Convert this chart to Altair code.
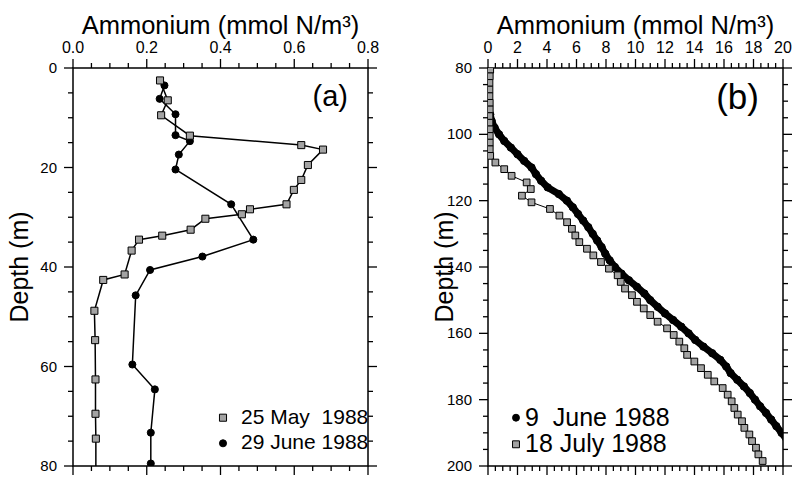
import altair as alt
import pandas as pd

# ---------------- data ----------------
panel_labels = ["(a)", "(b)"]
x_title = "Ammonium (mmol N/m³)"
y_title = "Depth (m)"

a_series = ["25 May\u00a0 1988", "29 June 1988"]
a_may_depth = [2.5, 6.5, 9.5, 13.6, 15.5, 16.4, 19.5, 22.5, 24.5, 27.4, 28.4, 29.4,
               30.3, 32.5, 33.7, 34.5, 36.7, 41.5, 42.6, 48.8, 54.7, 62.6, 69.5, 74.5]
a_may_nh4 = [0.236, 0.257, 0.239, 0.317, 0.619, 0.678, 0.637, 0.619, 0.599, 0.579, 0.480, 0.458,
             0.359, 0.319, 0.242, 0.179, 0.159, 0.140, 0.082, 0.058, 0.060, 0.061, 0.061, 0.062]
a_may_tail_depth = [86.0]
a_may_tail_nh4 = [0.062]
a_jun_depth = [3.5, 6.2, 9.3, 13.5, 14.7, 17.4, 20.4, 27.4, 34.5, 37.9, 40.6, 45.7,
               59.6, 64.6, 73.3, 79.5]
a_jun_nh4 = [0.248, 0.235, 0.278, 0.278, 0.317, 0.287, 0.278, 0.429, 0.489, 0.351, 0.209, 0.170,
             0.161, 0.222, 0.211, 0.211]

b_series = ["9\u00a0 June 1988", "18 July 1988"]
b_jun_depth = [94, 96, 98, 100, 102, 104, 106, 108, 110, 112, 114, 116, 118, 120, 122, 124,
               126, 128, 130, 132, 134, 136, 138, 140, 142, 144, 146, 148, 150, 152, 154, 156,
               158, 160, 162, 164, 166, 168, 170, 172, 174, 176, 178, 180, 182, 184, 186, 188,
               190, 192]
b_jun_nh4 = [0.15, 0.25, 0.45, 0.75, 1.1, 1.55, 2.0, 2.45, 2.95, 3.25, 3.6, 4.05, 4.8, 5.35,
             5.75, 6.1, 6.45, 6.8, 7.1, 7.4, 7.7, 7.95, 8.25, 8.6, 9.05, 9.55, 10.1, 10.6, 11.0,
             11.5, 12.0, 12.55, 13.1, 13.6, 14.05, 14.6, 15.2, 15.75, 16.15, 16.45, 16.9, 17.35,
             17.75, 18.1, 18.45, 18.85, 19.2, 19.55, 19.9, 20.25]
b_jul_depth = [80.5, 82.5, 84.5, 86.5, 88.5, 90.5, 92.5, 94.5, 96.5, 98.5, 100.5, 102.5,
               104.5, 106.5, 108.5, 110.5, 112.5, 114.5, 116.5, 118.5, 120.5, 122.5, 124.5,
               126.5, 128.5, 130.5, 132.5, 134.5, 136.5, 138.5, 140.5, 142.5, 144.5, 146.5,
               148.5, 150.5, 152.5, 154.5, 156.5, 158.5, 160.5, 162.5, 164.5, 166.5, 168.5,
               170.5, 172.5, 174.5, 176.5, 178.5, 180.5, 182.5, 184.5, 186.5, 188.5, 190.5,
               192.5, 194.5, 196.5, 198.5]
b_jul_nh4 = [0.15, 0.12, 0.1, 0.1, 0.1, 0.12, 0.12, 0.1, 0.1, 0.12, 0.12, 0.12,
             0.12, 0.15, 0.5, 1.1, 1.6, 2.62, 2.9, 2.3, 2.95, 4.2, 4.84,
             5.36, 5.69, 5.92, 6.19, 6.71, 7.14, 7.66, 8.2, 8.79, 9.0, 9.29,
             9.76, 10.1, 10.56, 11.0, 11.5, 12.14, 12.59, 12.97, 13.31, 13.5, 13.99,
             14.44, 14.9, 15.34, 15.91, 16.25, 16.52, 16.7, 16.93, 17.22, 17.38, 17.72,
             17.9, 18.17, 18.33, 18.62]

a_xmajor = [0.0, 0.2, 0.4, 0.6, 0.8]
a_xlabels = ["0.0", "0.2", "0.4", "0.6", "0.8"]
a_xminor = [0.05, 0.1, 0.15, 0.25, 0.3, 0.35, 0.45, 0.5, 0.55, 0.65, 0.7, 0.75]
a_ymajor = [0, 20, 40, 60, 80]
a_ylabels = ["0", "20", "40", "60", "80"]
a_yminor = [5, 10, 15, 25, 30, 35, 45, 50, 55, 65, 70, 75]
b_xmajor = [0, 2, 4, 6, 8, 10, 12, 14, 16, 18, 20]
b_xlabels = ["0", "2", "4", "6", "8", "10", "12", "14", "16", "18", "20"]
b_xminor = [i * 0.5 for i in range(41) if i % 4 != 0]
b_ymajor = [80, 100, 120, 140, 160, 180, 200]
b_ylabels = ["80", "100", "120", "140", "160", "180", "200"]
b_yminor = [v for v in range(80, 201, 5) if v % 20 != 0]

FONT = "Liberation Sans"
GRAY = "#a3a3a3"
W, H = 295, 398
MAJ, MIN = 9, 5


def tick_layers(xs, ys, xmajor, xminor, ymajor, yminor, xlabels, ylabels, ytitle_x):
    out = []
    for vals, ln in ((xmajor, MAJ), (xminor, MIN)):
        df = pd.DataFrame({"v": vals})
        for y0, y1 in ((0, -ln), (H, H + ln)):
            out.append(alt.Chart(df).mark_rule(color="black", strokeWidth=1.3).encode(
                x=alt.X("v:Q", scale=xs, axis=None), y=alt.value(y0), y2=alt.value(y1)))
    for vals, ln in ((ymajor, MAJ), (yminor, MIN)):
        df = pd.DataFrame({"v": vals})
        for x0, x1 in ((0, -ln), (W, W + ln)):
            out.append(alt.Chart(df).mark_rule(color="black", strokeWidth=1.3).encode(
                y=alt.Y("v:Q", scale=ys, axis=None), x=alt.value(x0), x2=alt.value(x1)))
    # tick labels
    out.append(alt.Chart(pd.DataFrame({"v": xmajor, "t": xlabels})).mark_text(
        font=FONT, fontSize=16, align="center", baseline="alphabetic", color="black").encode(
        x=alt.X("v:Q", scale=xs, axis=None), y=alt.value(-15), text="t:N"))
    out.append(alt.Chart(pd.DataFrame({"v": ymajor, "t": ylabels})).mark_text(
        font=FONT, fontSize=15, align="right", baseline="middle", color="black").encode(
        y=alt.Y("v:Q", scale=ys, axis=None), x=alt.value(-16), text="t:N"))
    # axis titles
    out.append(alt.Chart(pd.DataFrame({"t": [x_title]})).mark_text(
        font=FONT, fontSize=25.5, align="center", baseline="alphabetic", color="black").encode(
        x=alt.value(W / 2), y=alt.value(-34), text="t:N"))
    out.append(alt.Chart(pd.DataFrame({"t": [y_title]})).mark_text(
        font=FONT, fontSize=25, align="center", baseline="middle", angle=270, color="black").encode(
        x=alt.value(ytitle_x), y=alt.value(H / 2), text="t:N"))
    return out


def legend_layers(names, shapes, fills, sym_x, text_x, rows_y, fsize, pt_size):
    out = []
    for name, shp, fill, yy in zip(names, shapes, fills, rows_y):
        df = pd.DataFrame({"t": [name]})
        out.append(alt.Chart(df).mark_point(shape=shp, filled=True, fill=fill, stroke="black",
                                            strokeWidth=1, opacity=1, size=pt_size).encode(
            x=alt.value(sym_x), y=alt.value(yy)))
        out.append(alt.Chart(df).mark_text(font=FONT, fontSize=fsize, align="left",
                                           baseline="middle", color="black").encode(
            x=alt.value(text_x), y=alt.value(yy), text="t:N"))
    return out


def panel(lines, pts_list, xdom, ydom, ticks, labels, ytitle_x, legend, label, label_pos,
          label_size):
    xs = alt.Scale(domain=xdom, nice=False, zero=False)
    ys = alt.Scale(domain=ydom, reverse=True, nice=False, zero=False)
    layers = []
    for df, sw in lines:
        layers.append(
            alt.Chart(df).mark_line(color="black", strokeWidth=sw, clip=True).encode(
                x=alt.X("nh4:Q", scale=xs, axis=None),
                y=alt.Y("depth:Q", scale=ys, axis=None),
                order="depth:Q",
            )
        )
    for df, shp, fill, size in pts_list:
        layers.append(
            alt.Chart(df).mark_point(shape=shp, filled=True, fill=fill, stroke="black",
                                     strokeWidth=1, opacity=1, size=size, clip=True).encode(
                x=alt.X("nh4:Q", scale=xs, axis=None),
                y=alt.Y("depth:Q", scale=ys, axis=None),
            )
        )
    layers += tick_layers(xs, ys, *ticks, *labels, ytitle_x)
    layers += legend_layers(**legend)
    layers.append(
        alt.Chart(pd.DataFrame({"t": [label]})).mark_text(
            font=FONT, fontSize=label_size, align="right", baseline="middle", color="black"
        ).encode(text="t:N", x=alt.value(label_pos[0]), y=alt.value(label_pos[1]))
    )
    return alt.layer(*layers).properties(width=W, height=H)


# ---------- panel (a) ----------
a_may = pd.DataFrame({"depth": a_may_depth, "nh4": a_may_nh4})
a_may_line = pd.DataFrame({"depth": a_may_depth + a_may_tail_depth,
                           "nh4": a_may_nh4 + a_may_tail_nh4})
a_jun = pd.DataFrame({"depth": a_jun_depth, "nh4": a_jun_nh4})

pa = panel([(a_jun, 1.5), (a_may_line, 1.5)],
           [(a_jun, "circle", "black", 50), (a_may, "square", GRAY, 50)],
           [0, 0.8], [0, 80],
           (a_xmajor, a_xminor, a_ymajor, a_yminor), (a_xlabels, a_ylabels), -53,
           dict(names=a_series, shapes=["square", "circle"], fills=[GRAY, "black"],
                sym_x=150, text_x=168, rows_y=[349.7, 375.3], fsize=21, pt_size=50),
           panel_labels[0], (275, 29), 29)

# ---------- panel (b) ----------
b_jun = pd.DataFrame({"depth": b_jun_depth, "nh4": b_jun_nh4})
b_jul = pd.DataFrame({"depth": b_jul_depth, "nh4": b_jul_nh4})

pb = panel([(b_jun, 7), (b_jul, 1)],
           [(b_jun, "circle", "black", 55), (b_jul, "square", GRAY, 45)],
           [0, 20], [80, 200],
           (b_xmajor, b_xminor, b_ymajor, b_yminor), (b_xlabels, b_ylabels), -43,
           dict(names=b_series, shapes=["circle", "square"], fills=["black", GRAY],
                sym_x=28, text_x=37, rows_y=[349.7, 376.3], fsize=25, pt_size=48),
           panel_labels[1], (271, 30), 35)

chart = alt.hconcat(pa, pb, spacing=120, bounds="flush").properties(
    padding={"left": 7, "top": 13, "right": 0, "bottom": 0},
    background="white",
).configure_view(stroke="black", strokeWidth=1.5)

chart.save("out.html", embed_options={"renderer": "svg", "actions": False})
